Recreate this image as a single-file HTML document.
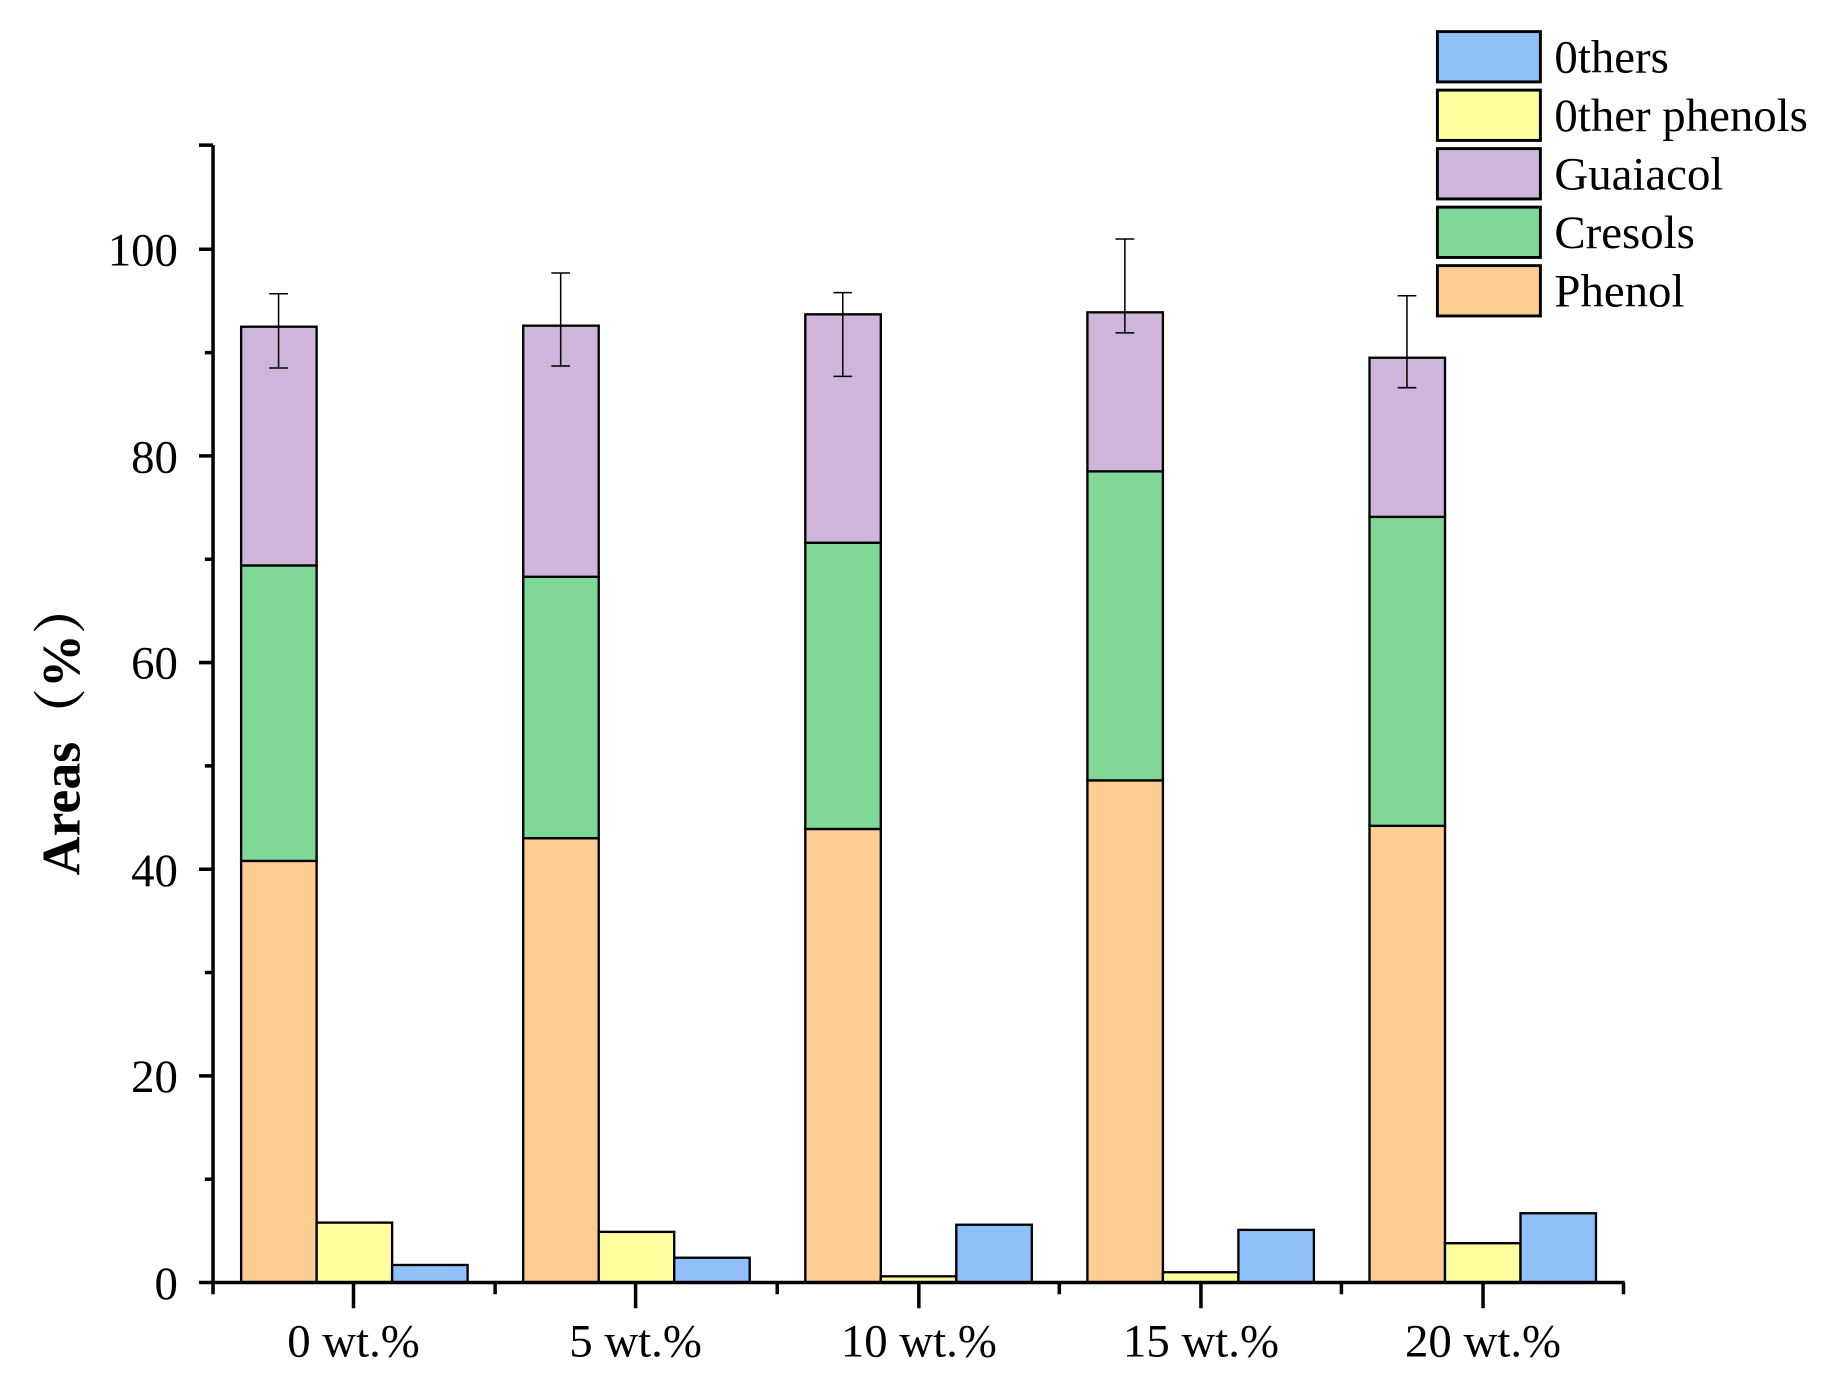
<!DOCTYPE html>
<html><head><style>html,body{margin:0;padding:0;background:#fff}svg{display:block}</style></head>
<body>
<svg width="1826" height="1382" viewBox="0 0 1560 1181" preserveAspectRatio="none" xmlns="http://www.w3.org/2000/svg" font-family="Liberation Serif, serif">
<g stroke="#000" stroke-width="2">
<rect x="206" y="735.7" width="64.5" height="360.3" fill="#fecd91"/>
<rect x="206" y="483.2" width="64.5" height="252.5" fill="#7fd898"/>
<rect x="206" y="279.2" width="64.5" height="204" fill="#cdb6d9"/>
<rect x="270.5" y="1044.8" width="64.5" height="51.2" fill="#fefe9e"/>
<rect x="335" y="1081" width="64.5" height="15" fill="#8fc0fa"/>
<rect x="447" y="716.3" width="64.5" height="379.7" fill="#fecd91"/>
<rect x="447" y="492.9" width="64.5" height="223.4" fill="#7fd898"/>
<rect x="447" y="278.3" width="64.5" height="214.6" fill="#cdb6d9"/>
<rect x="511.5" y="1052.7" width="64.5" height="43.3" fill="#fefe9e"/>
<rect x="576" y="1074.8" width="64.5" height="21.2" fill="#8fc0fa"/>
<rect x="688" y="708.4" width="64.5" height="387.6" fill="#fecd91"/>
<rect x="688" y="463.8" width="64.5" height="244.6" fill="#7fd898"/>
<rect x="688" y="268.6" width="64.5" height="195.2" fill="#cdb6d9"/>
<rect x="752.5" y="1090.7" width="64.5" height="5.3" fill="#fefe9e"/>
<rect x="817" y="1046.6" width="64.5" height="49.4" fill="#8fc0fa"/>
<rect x="929" y="666.9" width="64.5" height="429.1" fill="#fecd91"/>
<rect x="929" y="402.8" width="64.5" height="264.1" fill="#7fd898"/>
<rect x="929" y="266.9" width="64.5" height="135.9" fill="#cdb6d9"/>
<rect x="993.5" y="1087.2" width="64.5" height="8.8" fill="#fefe9e"/>
<rect x="1058" y="1051" width="64.5" height="45" fill="#8fc0fa"/>
<rect x="1170" y="705.7" width="64.5" height="390.3" fill="#fecd91"/>
<rect x="1170" y="441.7" width="64.5" height="264" fill="#7fd898"/>
<rect x="1170" y="305.7" width="64.5" height="136" fill="#cdb6d9"/>
<rect x="1234.5" y="1062.4" width="64.5" height="33.6" fill="#fefe9e"/>
<rect x="1299" y="1036.8" width="64.5" height="59.2" fill="#8fc0fa"/>
</g>
<g stroke="#000" stroke-width="1.3">
<path d="M238 314.5V251M230 314.5h16M230 251h16"/>
<path d="M479 312.8V233.3M471 312.8h16M471 233.3h16"/>
<path d="M720 321.6V250.1M712 321.6h16M712 250.1h16"/>
<path d="M961 284.5V204.2M953 284.5h16M953 204.2h16"/>
<path d="M1202 331.3V252.7M1194 331.3h16M1194 252.7h16"/>
</g>
<g stroke="#000" stroke-width="3" fill="none">
<path d="M182 124V1096H1388"/>
<path d="M182 1096h-12M182 919.4h-12M182 742.8h-12M182 566.2h-12M182 389.6h-12M182 213h-12M182 124h-12"/>
<path d="M182 1007.7h-7M182 831.1h-7M182 654.5h-7M182 477.9h-7M182 301.3h-7"/>
<path d="M182 1096v10M423 1096v10M664 1096v10M905 1096v10M1146 1096v10M1387 1096v10"/>
<path d="M302 1096v22M543 1096v22M785 1096v22M1026 1096v22M1267 1096v22"/>
</g>
<g font-size="40" text-anchor="end" fill="#000">
<text x="152" y="1110">0</text>
<text x="152" y="933">20</text>
<text x="152" y="757">40</text>
<text x="152" y="580">60</text>
<text x="152" y="404">80</text>
<text x="152" y="227">100</text>
</g>
<g font-size="40" text-anchor="middle" fill="#000">
<text x="302" y="1159">0 wt.%</text>
<text x="543" y="1159">5 wt.%</text>
<text x="785" y="1159">10 wt.%</text>
<text x="1026" y="1159">15 wt.%</text>
<text x="1267" y="1159">20 wt.%</text>
</g>
<text transform="translate(68,622) rotate(-90)" font-size="46" font-weight="bold" text-anchor="middle" font-family="Liberation Serif, Noto Serif CJK SC, serif">Areas（%）</text>
<g stroke="#000" stroke-width="2.5">
<rect x="1228" y="27" width="88" height="43" fill="#8fc0fa"/>
<rect x="1228" y="77" width="88" height="43" fill="#fefe9e"/>
<rect x="1228" y="127" width="88" height="43" fill="#cdb6d9"/>
<rect x="1228" y="177" width="88" height="43" fill="#7fd898"/>
<rect x="1228" y="227" width="88" height="43" fill="#fecd91"/>
</g>
<g font-size="40" fill="#000">
<text x="1328" y="62">0thers</text>
<text x="1328" y="112">0ther phenols</text>
<text x="1328" y="162">Guaiacol</text>
<text x="1328" y="212">Cresols</text>
<text x="1328" y="262">Phenol</text>
</g>
</svg>
</body></html>
